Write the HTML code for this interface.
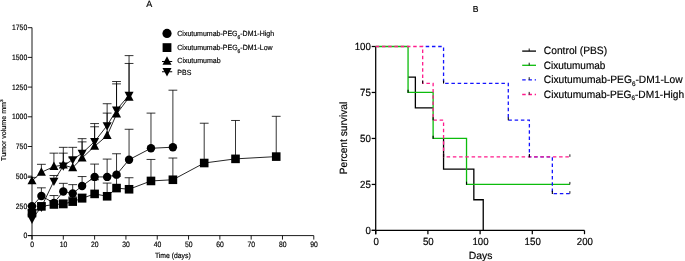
<!DOCTYPE html><html><head><meta charset="utf-8"><title>Figure</title><style>html,body{margin:0;padding:0;background:#fff}body{width:685px;height:261px;overflow:hidden}</style></head><body><svg width="685" height="261" viewBox="0 0 685 261" style="display:block">
<rect width="685" height="261" fill="#fff"/>
<g font-family="Liberation Sans, sans-serif" fill="#000">
<g stroke="#000" stroke-width="0.9" fill="none">
<path d="M32.0 27.6V239.6M27.8 235.6H313.78999999999996"/>
<path d="M27.8 235.60H32.0"/>
<path d="M27.8 205.90H32.0"/>
<path d="M27.8 176.20H32.0"/>
<path d="M27.8 146.50H32.0"/>
<path d="M27.8 116.80H32.0"/>
<path d="M27.8 87.10H32.0"/>
<path d="M27.8 57.40H32.0"/>
<path d="M27.8 27.70H32.0"/>
<path d="M32.00 235.6V239.6"/>
<path d="M63.31 235.6V239.6"/>
<path d="M94.62 235.6V239.6"/>
<path d="M125.93 235.6V239.6"/>
<path d="M157.24 235.6V239.6"/>
<path d="M188.55 235.6V239.6"/>
<path d="M219.86 235.6V239.6"/>
<path d="M251.17 235.6V239.6"/>
<path d="M282.48 235.6V239.6"/>
<path d="M313.79 235.6V239.6"/>
</g>
<path d="M32.00 206.26V205.90M27.60 205.90H36.40" stroke="#000" stroke-width="0.8" fill="none"/>
<path d="M41.39 196.04V187.84M36.99 187.84H45.79" stroke="#000" stroke-width="0.8" fill="none"/>
<path d="M53.92 202.93V195.56M49.52 195.56H58.32" stroke="#000" stroke-width="0.8" fill="none"/>
<path d="M63.31 191.53V183.33M58.91 183.33H67.71" stroke="#000" stroke-width="0.8" fill="none"/>
<path d="M72.70 193.43V184.63M68.30 184.63H77.10" stroke="#000" stroke-width="0.8" fill="none"/>
<path d="M82.10 185.94V176.56M77.70 176.56H86.50" stroke="#000" stroke-width="0.8" fill="none"/>
<path d="M94.62 176.91V164.08M90.22 164.08H99.02" stroke="#000" stroke-width="0.8" fill="none"/>
<path d="M107.14 176.91V159.09M102.74 159.09H111.54" stroke="#000" stroke-width="0.8" fill="none"/>
<path d="M116.54 174.66V153.75M112.14 153.75H120.94" stroke="#000" stroke-width="0.8" fill="none"/>
<path d="M129.06 159.69V129.27M124.66 129.27H133.46" stroke="#000" stroke-width="0.8" fill="none"/>
<path d="M150.98 148.28V113.12M146.58 113.12H155.38" stroke="#000" stroke-width="0.8" fill="none"/>
<path d="M172.89 147.21V90.19M168.49 90.19H177.29" stroke="#000" stroke-width="0.8" fill="none"/>
<path d="M32.00 213.03V210.06M27.60 210.06H36.40" stroke="#000" stroke-width="0.8" fill="none"/>
<path d="M41.39 206.38V202.93M36.99 202.93H45.79" stroke="#000" stroke-width="0.8" fill="none"/>
<path d="M53.92 204.47V201.15M49.52 201.15H58.32" stroke="#000" stroke-width="0.8" fill="none"/>
<path d="M63.31 204.00V199.96M58.91 199.96H67.71" stroke="#000" stroke-width="0.8" fill="none"/>
<path d="M72.70 201.62V196.99M68.30 196.99H77.10" stroke="#000" stroke-width="0.8" fill="none"/>
<path d="M82.10 198.30V194.02M77.70 194.02H86.50" stroke="#000" stroke-width="0.8" fill="none"/>
<path d="M94.62 193.90V179.76M90.22 179.76H99.02" stroke="#000" stroke-width="0.8" fill="none"/>
<path d="M107.14 196.28V183.09M102.74 183.09H111.54" stroke="#000" stroke-width="0.8" fill="none"/>
<path d="M116.54 188.08V176.20M112.14 176.20H120.94" stroke="#000" stroke-width="0.8" fill="none"/>
<path d="M129.06 189.27V177.74M124.66 177.74H133.46" stroke="#000" stroke-width="0.8" fill="none"/>
<path d="M150.98 180.95V159.45M146.58 159.45H155.38" stroke="#000" stroke-width="0.8" fill="none"/>
<path d="M172.89 179.76V158.02M168.49 158.02H177.29" stroke="#000" stroke-width="0.8" fill="none"/>
<path d="M204.20 163.01V123.22M199.80 123.22H208.60" stroke="#000" stroke-width="0.8" fill="none"/>
<path d="M235.51 158.86V120.48M231.11 120.48H239.91" stroke="#000" stroke-width="0.8" fill="none"/>
<path d="M276.22 156.60V116.32M271.82 116.32H280.62" stroke="#000" stroke-width="0.8" fill="none"/>
<path d="M32.00 180.95V177.39M27.60 177.39H36.40" stroke="#000" stroke-width="0.8" fill="none"/>
<path d="M41.39 172.28V164.32M36.99 164.32H45.79" stroke="#000" stroke-width="0.8" fill="none"/>
<path d="M53.92 166.58V153.15M49.52 153.15H58.32" stroke="#000" stroke-width="0.8" fill="none"/>
<path d="M63.31 165.03V153.15M58.91 153.15H67.71" stroke="#000" stroke-width="0.8" fill="none"/>
<path d="M72.70 167.77V157.79M68.30 157.79H77.10" stroke="#000" stroke-width="0.8" fill="none"/>
<path d="M82.10 158.02V141.87M77.70 141.87H86.50" stroke="#000" stroke-width="0.8" fill="none"/>
<path d="M94.62 146.26V126.78M90.22 126.78H99.02" stroke="#000" stroke-width="0.8" fill="none"/>
<path d="M107.14 135.57V113.12M102.74 113.12H111.54" stroke="#000" stroke-width="0.8" fill="none"/>
<path d="M116.54 114.07V83.89M112.14 83.89H120.94" stroke="#000" stroke-width="0.8" fill="none"/>
<path d="M129.06 97.32V63.46M124.66 63.46H133.46" stroke="#000" stroke-width="0.8" fill="none"/>
<path d="M32.00 218.97V214.22M27.60 214.22H36.40" stroke="#000" stroke-width="0.8" fill="none"/>
<path d="M41.39 207.09V206.49M36.99 206.49H45.79" stroke="#000" stroke-width="0.8" fill="none"/>
<path d="M53.92 181.07V175.49M49.52 175.49H58.32" stroke="#000" stroke-width="0.8" fill="none"/>
<path d="M63.31 165.86V147.33M58.91 147.33H67.71" stroke="#000" stroke-width="0.8" fill="none"/>
<path d="M72.70 159.57V147.33M68.30 147.33H77.10" stroke="#000" stroke-width="0.8" fill="none"/>
<path d="M82.10 153.27V138.66M77.70 138.66H86.50" stroke="#000" stroke-width="0.8" fill="none"/>
<path d="M94.62 141.51V123.57M90.22 123.57H99.02" stroke="#000" stroke-width="0.8" fill="none"/>
<path d="M107.14 125.59V103.73M102.74 103.73H111.54" stroke="#000" stroke-width="0.8" fill="none"/>
<path d="M116.54 109.91V81.52M112.14 81.52H120.94" stroke="#000" stroke-width="0.8" fill="none"/>
<path d="M129.06 95.18V55.62M124.66 55.62H133.46" stroke="#000" stroke-width="0.8" fill="none"/>
<polyline points="32.00,180.95 41.39,172.28 53.92,166.58 63.31,165.03 72.70,167.77 82.10,158.02 94.62,146.26 107.14,135.57 116.54,114.07 129.06,97.32" fill="none" stroke="#000" stroke-width="0.85"/>
<polyline points="32.00,218.97 41.39,207.09 53.92,181.07 63.31,165.86 72.70,159.57 82.10,153.27 94.62,141.51 107.14,125.59 116.54,109.91 129.06,95.18" fill="none" stroke="#000" stroke-width="0.85"/>
<polyline points="32.00,206.26 41.39,196.04 53.92,202.93 63.31,191.53 72.70,193.43 82.10,185.94 94.62,176.91 107.14,176.91 116.54,174.66 129.06,159.69 150.98,148.28 172.89,147.21" fill="none" stroke="#000" stroke-width="0.85"/>
<polyline points="32.00,213.03 41.39,206.38 53.92,204.47 63.31,204.00 72.70,201.62 82.10,198.30 94.62,193.90 107.14,196.28 116.54,188.08 129.06,189.27 150.98,180.95 172.89,179.76 204.20,163.01 235.51,158.86 276.22,156.60" fill="none" stroke="#000" stroke-width="0.85"/>
<path d="M32.00 175.95L36.50 184.35H27.50Z"/>
<path d="M41.39 167.28L45.89 175.68H36.89Z"/>
<path d="M53.92 161.58L58.42 169.98H49.42Z"/>
<path d="M63.31 160.03L67.81 168.43H58.81Z"/>
<path d="M72.70 162.77L77.20 171.17H68.20Z"/>
<path d="M82.10 153.02L86.60 161.42H77.60Z"/>
<path d="M94.62 141.26L99.12 149.66H90.12Z"/>
<path d="M107.14 130.57L111.64 138.97H102.64Z"/>
<path d="M116.54 109.07L121.04 117.47H112.04Z"/>
<path d="M129.06 92.32L133.56 100.72H124.56Z"/>
<path d="M32.00 223.97L36.50 215.57H27.50Z"/>
<path d="M41.39 212.09L45.89 203.69H36.89Z"/>
<path d="M53.92 186.07L58.42 177.67H49.42Z"/>
<path d="M63.31 170.86L67.81 162.46H58.81Z"/>
<path d="M72.70 164.57L77.20 156.17H68.20Z"/>
<path d="M82.10 158.27L86.60 149.87H77.60Z"/>
<path d="M94.62 146.51L99.12 138.11H90.12Z"/>
<path d="M107.14 130.59L111.64 122.19H102.64Z"/>
<path d="M116.54 114.91L121.04 106.51H112.04Z"/>
<path d="M129.06 100.18L133.56 91.78H124.56Z"/>
<circle cx="32.00" cy="206.26" r="4.2"/>
<circle cx="41.39" cy="196.04" r="4.2"/>
<circle cx="53.92" cy="202.93" r="4.2"/>
<circle cx="63.31" cy="191.53" r="4.2"/>
<circle cx="72.70" cy="193.43" r="4.2"/>
<circle cx="82.10" cy="185.94" r="4.2"/>
<circle cx="94.62" cy="176.91" r="4.2"/>
<circle cx="107.14" cy="176.91" r="4.2"/>
<circle cx="116.54" cy="174.66" r="4.2"/>
<circle cx="129.06" cy="159.69" r="4.2"/>
<circle cx="150.98" cy="148.28" r="4.2"/>
<circle cx="172.89" cy="147.21" r="4.2"/>
<rect x="27.70" y="208.73" width="8.6" height="8.6"/>
<rect x="37.09" y="202.08" width="8.6" height="8.6"/>
<rect x="49.62" y="200.17" width="8.6" height="8.6"/>
<rect x="59.01" y="199.70" width="8.6" height="8.6"/>
<rect x="68.40" y="197.32" width="8.6" height="8.6"/>
<rect x="77.80" y="194.00" width="8.6" height="8.6"/>
<rect x="90.32" y="189.60" width="8.6" height="8.6"/>
<rect x="102.84" y="191.98" width="8.6" height="8.6"/>
<rect x="112.24" y="183.78" width="8.6" height="8.6"/>
<rect x="124.76" y="184.97" width="8.6" height="8.6"/>
<rect x="146.68" y="176.65" width="8.6" height="8.6"/>
<rect x="168.59" y="175.46" width="8.6" height="8.6"/>
<rect x="199.90" y="158.71" width="8.6" height="8.6"/>
<rect x="231.21" y="154.56" width="8.6" height="8.6"/>
<rect x="271.92" y="152.30" width="8.6" height="8.6"/>
<circle cx="167.00" cy="33.40" r="4.6"/>
<rect x="162.60" y="43.20" width="8.8" height="8.8"/>
<path d="M162 61.5H172.2M162 71.7H172.2" stroke="#000" stroke-width="1.1"/>
<path d="M167.00 56.30L171.50 64.70H162.50Z"/>
<path d="M167.00 76.50L171.50 68.10H162.50Z"/>
<g stroke="#000" stroke-width="1.25" fill="none">
<path d="M375.7 46.5V234.20000000000002M371.7 230.4H584.5"/>
<path d="M371.7 230.40H375.7"/>
<path d="M371.7 184.43H375.7"/>
<path d="M371.7 138.45H375.7"/>
<path d="M371.7 92.47H375.7"/>
<path d="M371.7 46.50H375.7"/>
<path d="M375.70 230.4V234.20000000000002"/>
<path d="M427.90 230.4V234.20000000000002"/>
<path d="M480.10 230.4V234.20000000000002"/>
<path d="M532.30 230.4V234.20000000000002"/>
<path d="M584.50 230.4V234.20000000000002"/>
</g>
<path d="M408.06 77.16H415.37V107.79H433.12M443.56 138.45V169.11H473.84V199.74H483.23V230.40" fill="none" stroke="#000" stroke-width="1.3"/>
<path d="M375.70 46.50H408.06V92.47H433.12V138.45H466.53V184.43H569.88" fill="none" stroke="#0cbc0c" stroke-width="1.3"/>
<path d="M569.88 184.43v-2.5" stroke="#000" stroke-width="0.9"/>
<path d="M422.68 46.50H443.56V83.28H508.29V120.06H529.38V156.84H552.34V193.62H569.88" fill="none" stroke="#1414ff" stroke-width="1.3" stroke-dasharray="3.5 2.75" stroke-dashoffset="3.23"/>
<path d="M569.88 193.62v-2.5" stroke="#000" stroke-width="0.9"/>
<path d="M375.70 46.50H422.68V83.28H433.12V120.06H443.56V156.84H569.88" fill="none" stroke="#ff1a8c" stroke-width="1.3" stroke-dasharray="3.5 2.75" stroke-dashoffset="0.00"/>
<path d="M569.88 156.84v-2.5" stroke="#000" stroke-width="0.9"/>
<path d="M408.06 92.77v-3.1" stroke="#000" stroke-width="1.1"/>
<path d="M433.12 138.75v-3.1" stroke="#000" stroke-width="1.1"/>
<path d="M466.53 184.73v-3.1" stroke="#000" stroke-width="1.1"/>
<path d="M443.56 83.58v-3.1" stroke="#000" stroke-width="1.1"/>
<path d="M508.29 120.36v-3.1" stroke="#000" stroke-width="1.1"/>
<path d="M529.38 157.14v-3.1" stroke="#000" stroke-width="1.1"/>
<path d="M552.34 193.92v-3.1" stroke="#000" stroke-width="1.1"/>
<path d="M422.68 83.58v-3.1" stroke="#000" stroke-width="1.1"/>
<path d="M433.12 120.36v-3.1" stroke="#000" stroke-width="1.1"/>
<path d="M443.56 157.14v-3.1" stroke="#000" stroke-width="1.1"/>
<path d="M522.2 51.1H536" stroke="#000" stroke-width="1.3"/>
<path d="M529.2 51.1v-2.6" stroke="#000" stroke-width="0.9"/>
<path d="M522.2 65.3H536" stroke="#0cbc0c" stroke-width="1.3"/>
<path d="M529.2 65.3v-2.6" stroke="#000" stroke-width="0.9"/>
<path d="M522.2 79.8H536" stroke="#1414ff" stroke-width="1.3" stroke-dasharray="3.5 2.75"/>
<path d="M529.2 79.8v-2.6" stroke="#000" stroke-width="0.9"/>
<path d="M522.2 94.5H536" stroke="#ff1a8c" stroke-width="1.3" stroke-dasharray="3.5 2.75"/>
<path d="M529.2 94.5v-2.6" stroke="#000" stroke-width="0.9"/>
<g stroke="#000" stroke-width="0.18" style="will-change:transform;filter:grayscale(1);text-rendering:geometricPrecision"><text x="27.2" y="238.20" font-size="7.8" text-anchor="end" textLength="3.8" lengthAdjust="spacingAndGlyphs">0</text>
<text x="27.2" y="208.50" font-size="7.8" text-anchor="end" textLength="11.399999999999999" lengthAdjust="spacingAndGlyphs">250</text>
<text x="27.2" y="178.80" font-size="7.8" text-anchor="end" textLength="11.399999999999999" lengthAdjust="spacingAndGlyphs">500</text>
<text x="27.2" y="149.10" font-size="7.8" text-anchor="end" textLength="11.399999999999999" lengthAdjust="spacingAndGlyphs">750</text>
<text x="27.2" y="119.40" font-size="7.8" text-anchor="end" textLength="15.2" lengthAdjust="spacingAndGlyphs">1000</text>
<text x="27.2" y="89.70" font-size="7.8" text-anchor="end" textLength="15.2" lengthAdjust="spacingAndGlyphs">1250</text>
<text x="27.2" y="60.00" font-size="7.8" text-anchor="end" textLength="15.2" lengthAdjust="spacingAndGlyphs">1500</text>
<text x="27.2" y="30.30" font-size="7.8" text-anchor="end" textLength="15.2" lengthAdjust="spacingAndGlyphs">1750</text>
<text x="32.20" y="246.6" font-size="7.8" text-anchor="middle" textLength="3.8" lengthAdjust="spacingAndGlyphs">0</text>
<text x="63.51" y="246.6" font-size="7.8" text-anchor="middle" textLength="7.6" lengthAdjust="spacingAndGlyphs">10</text>
<text x="94.82" y="246.6" font-size="7.8" text-anchor="middle" textLength="7.6" lengthAdjust="spacingAndGlyphs">20</text>
<text x="126.13" y="246.6" font-size="7.8" text-anchor="middle" textLength="7.6" lengthAdjust="spacingAndGlyphs">30</text>
<text x="157.44" y="246.6" font-size="7.8" text-anchor="middle" textLength="7.6" lengthAdjust="spacingAndGlyphs">40</text>
<text x="188.75" y="246.6" font-size="7.8" text-anchor="middle" textLength="7.6" lengthAdjust="spacingAndGlyphs">50</text>
<text x="220.06" y="246.6" font-size="7.8" text-anchor="middle" textLength="7.6" lengthAdjust="spacingAndGlyphs">60</text>
<text x="251.37" y="246.6" font-size="7.8" text-anchor="middle" textLength="7.6" lengthAdjust="spacingAndGlyphs">70</text>
<text x="282.68" y="246.6" font-size="7.8" text-anchor="middle" textLength="7.6" lengthAdjust="spacingAndGlyphs">80</text>
<text x="313.99" y="246.6" font-size="7.8" text-anchor="middle" textLength="7.6" lengthAdjust="spacingAndGlyphs">90</text>
<text x="172.8" y="258" font-size="7.6" text-anchor="middle" textLength="35.8" lengthAdjust="spacingAndGlyphs">Time (days)</text>
<text transform="translate(6.0,130.2) rotate(-90)" font-size="7.1" text-anchor="middle">Tumor volume mm<tspan font-size="4.6" dy="-2.6">3</tspan></text>
<text x="149.2" y="6.6" font-size="9" text-anchor="middle">A</text>
<text x="177.3" y="35.9" font-size="7.5" textLength="96.8" lengthAdjust="spacingAndGlyphs">Cixutumumab-PEG<tspan font-size="5.25" dy="3.15">6</tspan><tspan dy="-3.15">-DM1-High</tspan></text>
<text x="177.3" y="49.9" font-size="7.5" textLength="95.3" lengthAdjust="spacingAndGlyphs">Cixutumumab-PEG<tspan font-size="5.25" dy="3.15">6</tspan><tspan dy="-3.15">-DM1-Low</tspan></text>
<text x="177.3" y="62.8" font-size="7.5" textLength="43.4" lengthAdjust="spacingAndGlyphs">Cixutumumab</text>
<text x="177.3" y="75.2" font-size="7.5" textLength="14.0" lengthAdjust="spacingAndGlyphs">PBS</text>
<text x="370.9" y="234.15" font-size="10.4" text-anchor="end" textLength="5.4" lengthAdjust="spacingAndGlyphs">0</text>
<text x="370.9" y="188.18" font-size="10.4" text-anchor="end" textLength="10.8" lengthAdjust="spacingAndGlyphs">25</text>
<text x="370.9" y="142.20" font-size="10.4" text-anchor="end" textLength="10.8" lengthAdjust="spacingAndGlyphs">50</text>
<text x="370.9" y="96.22" font-size="10.4" text-anchor="end" textLength="10.8" lengthAdjust="spacingAndGlyphs">75</text>
<text x="370.9" y="50.25" font-size="10.4" text-anchor="end" textLength="16.2" lengthAdjust="spacingAndGlyphs">100</text>
<text x="376.10" y="244.7" font-size="10.4" text-anchor="middle" textLength="5.4" lengthAdjust="spacingAndGlyphs">0</text>
<text x="428.30" y="244.7" font-size="10.4" text-anchor="middle" textLength="10.8" lengthAdjust="spacingAndGlyphs">50</text>
<text x="480.50" y="244.7" font-size="10.4" text-anchor="middle" textLength="16.2" lengthAdjust="spacingAndGlyphs">100</text>
<text x="532.70" y="244.7" font-size="10.4" text-anchor="middle" textLength="16.2" lengthAdjust="spacingAndGlyphs">150</text>
<text x="584.90" y="244.7" font-size="10.4" text-anchor="middle" textLength="16.2" lengthAdjust="spacingAndGlyphs">200</text>
<text x="480.5" y="258.5" font-size="10.4" text-anchor="middle">Days</text>
<text transform="translate(347.3,138.0) rotate(-90)" font-size="10.5" text-anchor="middle" textLength="72.5" lengthAdjust="spacingAndGlyphs">Percent survival</text>
<text x="475.7" y="11.8" font-size="8.6" text-anchor="middle">B</text>
<text x="543.8" y="54.1" font-size="10.6" textLength="63.3" lengthAdjust="spacingAndGlyphs">Control (PBS)</text>
<text x="543.8" y="68.55" font-size="10.6" textLength="61.5" lengthAdjust="spacingAndGlyphs">Cixutumumab</text>
<text x="543.8" y="83.0" font-size="10.6" textLength="138.8" lengthAdjust="spacingAndGlyphs">Cixutumumab-PEG<tspan font-size="6.57" dy="2.65">6</tspan><tspan dy="-2.65">-DM1-Low</tspan></text>
<text x="543.8" y="97.6" font-size="10.6" textLength="140.4" lengthAdjust="spacingAndGlyphs">Cixutumumab-PEG<tspan font-size="6.57" dy="2.65">6</tspan><tspan dy="-2.65">-DM1-High</tspan></text></g>
</g></svg></body></html>
